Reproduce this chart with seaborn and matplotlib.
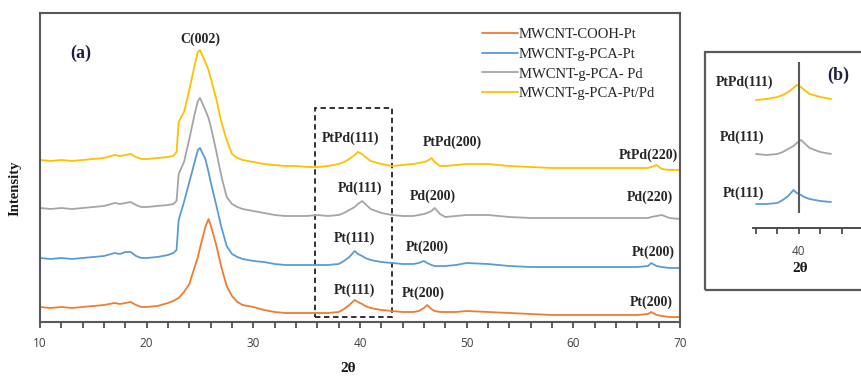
import numpy as np
import pandas as pd
import matplotlib
matplotlib.use("Agg")
import matplotlib.pyplot as plt
import seaborn as sns
from matplotlib.patches import Rectangle
from matplotlib.lines import Line2D

# ---------------- data ----------------
two_theta = [10, 11, 12, 13, 14, 15, 16, 17, 17.5, 18,
             18.5, 19, 19.5, 20, 21, 22, 22.5, 22.8, 23.0, 23.5,
             24.0, 24.5, 24.8, 25.0, 25.5, 25.8, 26.0, 26.5, 27.0, 27.5,
             28.0, 28.5, 29, 30, 31, 32, 33, 34, 35, 36,
             37, 38, 38.5, 39, 39.5, 39.8, 40.2, 40.5, 41, 42,
             43, 44, 45, 45.5, 46, 46.3, 46.7, 47.0, 47.5, 48,
             49, 50, 52, 54, 56, 58, 60, 62, 64, 66,
             67, 67.3, 67.8, 68.3, 69, 70]

int_cooh_pt = [15, 14, 15, 14, 15, 16, 17, 19, 18, 19,
               20, 17, 15, 15, 16, 19, 21, 23, 24, 30,
               38, 55, 65, 74, 95, 103, 97, 78, 55, 36,
               26, 20, 17, 15, 12, 10, 9, 9, 9, 9,
               9, 10, 13, 17, 22, 20, 18, 16, 14, 12,
               11, 10, 10, 11, 14, 17, 13, 11, 10, 10,
               10, 11, 10, 9, 8, 7, 7, 7, 7, 7,
               8, 10, 7, 6, 5, 5]

int_pca_pt = [64, 63, 64, 63, 64, 65, 66, 69, 68, 70,
              70, 66, 64, 64, 65, 67, 69, 72, 102, 120,
              140, 160, 172, 174, 163, 150, 140, 118, 95, 76,
              68, 65, 63, 61, 60, 58, 57, 57, 57, 57,
              57, 58, 61, 65, 71, 68, 66, 64, 62, 60,
              59, 58, 58, 59, 61, 59, 57, 56, 56, 56,
              57, 59, 58, 56, 55, 55, 55, 55, 55, 55,
              56, 59, 56, 55, 54, 54]

int_pca_pd = [114, 113, 114, 113, 114, 115, 116, 119, 118, 119,
              120, 117, 115, 115, 116, 117, 118, 121, 148, 160,
              183, 208, 221, 224, 212, 204, 196, 172, 146, 125,
              118, 115, 113, 111, 109, 107, 106, 106, 106, 107,
              106, 107, 109, 112, 115, 118, 121, 118, 113, 109,
              107, 106, 106, 107, 108, 109, 111, 114, 108, 105,
              106, 107, 107, 105, 104, 104, 104, 104, 104, 104,
              104, 105, 106, 107, 104, 103]

int_pca_ptpd = [162, 161, 162, 161, 162, 163, 164, 167, 166, 167,
                168, 165, 163, 163, 164, 165, 166, 170, 200, 210,
                232, 257, 270, 272, 260, 252, 244, 224, 200, 182,
                168, 164, 162, 160, 158, 157, 156, 156, 155, 155,
                156, 158, 160, 163, 167, 170, 168, 165, 161, 158,
                156, 157, 158, 159, 160, 161, 164, 160, 156, 156,
                157, 158, 158, 156, 155, 154, 154, 154, 154, 154,
                154, 155, 157, 153, 152, 152]

samples = ["MWCNT-COOH-Pt", "MWCNT-g-PCA-Pt", "MWCNT-g-PCA- Pd", "MWCNT-g-PCA-Pt/Pd"]
colors = ["#ED7D31", "#5B9BD5", "#A5A5A5", "#FFC000"]
series = [int_cooh_pt, int_pca_pt, int_pca_pd, int_pca_ptpd]

x_ticks = [10, 20, 30, 40, 50, 60, 70]

# peak annotations: (label, 2theta, intensity)
peak_labels = [
    ("C(002)", 25.0, 283),
    ("PtPd(111)", 39.1, 184), ("PtPd(200)", 48.7, 180), ("PtPd(220)", 67.0, 167),
    ("Pd(111)", 40.0, 134), ("Pd(200)", 46.8, 126), ("Pd(220)", 67.2, 125),
    ("Pt(111)", 39.5, 84), ("Pt(200)", 46.3, 75), ("Pt(200)", 67.5, 70),
    ("Pt(111)", 39.5, 32), ("Pt(200)", 45.9, 29), ("Pt(200)", 67.3, 20),
]

# ---------------- figure ----------------
sns.set_style("white")
plt.rcParams["font.family"] = ["Liberation Serif", "DejaVu Serif"]

W, H = 861, 376
fig = plt.figure(figsize=(W / 100, H / 100), dpi=100)


def fx(px):
    return px / W


def fy(py):
    return 1 - py / H


frames = []
for name, vals in zip(samples, series):
    frames.append(pd.DataFrame({"two_theta": two_theta, "intensity": vals, "sample": name}))
df = pd.concat(frames, ignore_index=True)
palette = dict(zip(samples, colors))

ax = fig.add_axes([fx(40), fy(322), fx(680) - fx(40), fy(13) - fy(322)])
sns.lineplot(data=df, x="two_theta", y="intensity", hue="sample", palette=palette,
             estimator=None, sort=False, linewidth=1.3, legend=False, ax=ax)
ax.set_xlim(10, 70)
ax.set_ylim(0, 309)
ax.set_xlabel("")
ax.set_ylabel("")
ax.set_yticks([])
ax.set_xticks(x_ticks)
ax.set_xticks(np.arange(10, 71, 2), minor=True)
ax.set_xticklabels([str(t) for t in x_ticks], fontfamily="Open Sans", fontsize=8.5, color="#404040")
ax.tick_params(axis="x", which="both", bottom=True, direction="out", length=4, width=1.2,
               color="#404040", pad=7)
for s in ax.spines.values():
    s.set_color("#595959")
    s.set_linewidth(1.5)

# dashed box
ax.add_patch(Rectangle((35.8, 5), 7.2, 209, fill=False, ls=(0, (3, 2)), lw=1.3, ec="#222222"))

for lab, xx, yy in peak_labels:
    ax.text(xx, yy, lab, ha="center", va="center", fontsize=10, fontweight="bold", color="#262626")
ax.text(13.8, 269, "(a)", ha="center", va="center", fontsize=13, fontweight="bold", color="#1F1F3F")

handles = [Line2D([0], [0], color=c, lw=1.3) for c in colors]
axw = fx(680) - fx(40)
ax.legend(handles, samples, loc="upper left",
          bbox_to_anchor=((fx(476) - fx(40)) / axw, 1 - (22 - 13) / 309),
          frameon=False, fontsize=10.5, handlelength=2.5, handletextpad=0.05,
          labelspacing=0.45, borderaxespad=0, labelcolor="#262626")

fig.text(fx(15), fy(188), "Intensity", rotation=90, ha="center", va="center",
         fontsize=10.5, fontweight="bold", color="#1a1a1a")
fig.text(fx(348), fy(368), "2θ", ha="center", va="center", fontsize=11, fontweight="bold", color="#1a1a1a")

# ---------------- inset (b) ----------------
fig.add_artist(Rectangle((fx(705), fy(290)), 0.5, fy(52) - fy(290), transform=fig.transFigure,
                         fill=False, ec="#595959", lw=1.6))

ax2 = fig.add_axes([fx(753), fy(228), fx(861) - fx(753), fy(52) - fy(228)])
inset_offsets = {"MWCNT-g-PCA-Pt": -33, "MWCNT-g-PCA- Pd": -33, "MWCNT-g-PCA-Pt/Pd": -27}
sub = df[(df["two_theta"] >= 36) & (df["two_theta"] <= 43.5) & (df["sample"].isin(inset_offsets))].copy()
sub["intensity"] = sub["intensity"] + sub["sample"].map(inset_offsets)
sns.lineplot(data=sub, x="two_theta", y="intensity", hue="sample", palette=palette,
             estimator=None, sort=False, linewidth=1.3, legend=False, ax=ax2)
ax2.vlines(40, 15, 166, color="#595959", lw=1.5)
ax2.set_xlim(35.72, 45.8)
ax2.set_ylim(0, 176)
ax2.set_xlabel("")
ax2.set_ylabel("")
ax2.set_yticks([])
ax2.set_xticks([36, 38, 40, 42, 44])
ax2.set_xticklabels(["", "", "40", "", ""], fontfamily="Open Sans", fontsize=8.5, color="#404040")
ax2.tick_params(axis="x", bottom=True, direction="out", length=4, width=1.2, color="#404040", pad=8)
ax2.patch.set_alpha(0)
for k in ["left", "top", "right"]:
    ax2.spines[k].set_visible(False)
ax2.spines["bottom"].set_color("#404040")
ax2.spines["bottom"].set_linewidth(1.3)

fig.text(fx(745), fy(82), "PtPd(111)", ha="center", va="center", fontsize=10, fontweight="bold", color="#262626")
fig.text(fx(742), fy(137), "Pd(111)", ha="center", va="center", fontsize=10, fontweight="bold", color="#262626")
fig.text(fx(743), fy(193), "Pt(111)", ha="center", va="center", fontsize=10, fontweight="bold", color="#262626")
fig.text(fx(838), fy(75), "(b)", ha="center", va="center", fontsize=13, fontweight="bold", color="#1F1F3F")
fig.text(fx(800), fy(268), "2θ", ha="center", va="center", fontsize=11, fontweight="bold", color="#1a1a1a")

fig.savefig("out.png", dpi=100)
